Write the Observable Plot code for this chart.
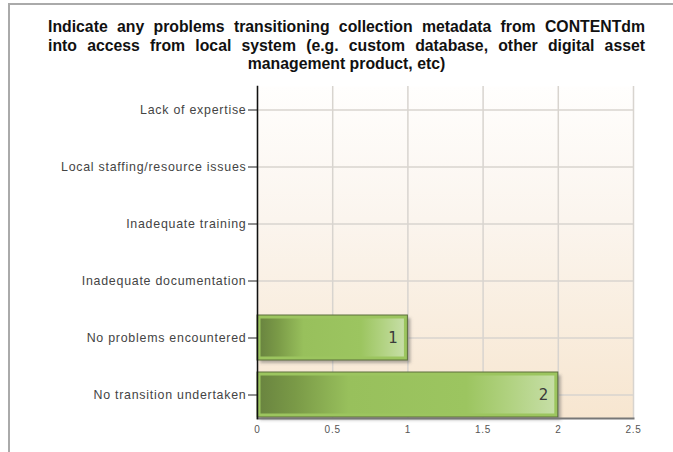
<!DOCTYPE html>
<html>
<head>
<meta charset="utf-8">
<script src="https://cdn.jsdelivr.net/npm/d3@7"></script>
<script src="https://cdn.jsdelivr.net/npm/@observablehq/plot@0.6"></script>
<style>
  html, body { margin: 0; padding: 0; background: #fff; }
  #page { position: relative; width: 673px; height: 452px; overflow: hidden; }
  #frame { position: absolute; left: 8px; top: 3px; width: 700px; height: 500px;
           border-left: 2px solid #aaa; border-top: 2px solid #aaa; }
  #title { position: absolute; left: 48px; top: 18px; width: 597px;
           font-family: "Liberation Sans", Arial, sans-serif; font-weight: bold; font-size: 15.8px;
           line-height: 18.5px; color: #111; }
  #title .j { text-align: justify; text-align-last: justify; }
  #title .c { text-align: center; white-space: nowrap; }
  #chart { position: absolute; left: 0; top: 80px; }
  #chart svg g[aria-label="y-axis tick label"] text,
  #chart svg g[aria-label="x-axis tick label"] text { letter-spacing: 0.75px; }
</style>
</head>
<body>
<div id="page">
  <div id="frame"></div>
  <div id="title"></div>
  <div id="chart"></div>
</div>
<script>
const titleLines = [
  "Indicate any problems transitioning collection metadata from CONTENTdm",
  "into access from local system (e.g. custom database, other digital asset",
  "management product, etc)"
];
const categories = [
  "Lack of expertise",
  "Local staffing/resource issues",
  "Inadequate training",
  "Inadequate documentation",
  "No problems encountered",
  "No transition undertaken"
];
const values = [0, 0, 0, 0, 1, 2];
const xTicks = [0, 0.5, 1, 1.5, 2, 2.5];
const xTickLabels = ["0", "0.5", "1", "1.5", "2", "2.5"];

const titleEl = document.getElementById("title");
titleLines.forEach((t, i) => {
  const d = document.createElement("div");
  d.className = i < titleLines.length - 1 ? "j" : "c";
  d.textContent = t;
  titleEl.appendChild(d);
});

const data = categories.map((c, i) => ({category: c, value: values[i]}));
const bars = data.filter(d => d.value > 0);

const plot = Plot.plot({
  width: 673,
  height: 372,
  marginLeft: 257,
  marginRight: 40,
  marginTop: 6,
  marginBottom: 34,
  style: {fontFamily: "'Liberation Sans', Arial, sans-serif", background: "transparent", overflow: "visible"},
  x: {domain: [0, 2.5], ticks: xTicks},
  y: {domain: categories, paddingInner: 0.216, paddingOuter: 0},
  marks: [
    Plot.frame({fill: "url(#bgGrad)", stroke: "none"}),
    Plot.gridX(xTicks, {stroke: "#d8d4cf", strokeOpacity: 1, strokeWidth: 1.5}),
    Plot.gridY({stroke: "#d8d4cf", strokeOpacity: 1, strokeWidth: 1.5}),
    Plot.barX(bars, {x: "value", y: "category", fill: "#555", fillOpacity: 0.45, dx: 3, dy: 3, render: (i, s, v, d, c, next) => { const g = next(i, s, v, d, c); g.setAttribute("filter", "url(#blur)"); return g; }}),
    Plot.barX(bars, {x: "value", y: "category", fill: "#9cc55f", stroke: "#5d6e3c", strokeWidth: 1}),
    Plot.barX(bars, {x: "value", y: "category", fill: "url(#barGrad)", inset: 3.5}),
    Plot.text(bars, {x: "value", y: "category", text: d => String(d.value), dx: -10, textAnchor: "end", fontSize: 15, fill: "#3a3a3a", fontFamily: "'DejaVu Sans', sans-serif"}),
    Plot.axisY({tickSize: 9, tickPadding: 2, fontSize: 12.4, color: "#444", stroke: "#222", label: null}),
    Plot.axisX({ticks: xTicks, tickFormat: (d, i) => xTickLabels[i], tickSize: 0, tickPadding: 7, fontSize: 10, color: "#555", label: null}),
    Plot.frame({anchor: "bottom", stroke: "#777", strokeWidth: 2}),
    Plot.frame({anchor: "left", stroke: "#111", strokeWidth: 1.5})
  ]
});

const defs = d3.select(plot).insert("defs", ":first-child");
const bg = defs.append("linearGradient").attr("id", "bgGrad").attr("x1", 0).attr("y1", 0).attr("x2", 0).attr("y2", 1);
bg.append("stop").attr("offset", "0%").attr("stop-color", "#fffefd");
bg.append("stop").attr("offset", "40%").attr("stop-color", "#fbf5ee");
bg.append("stop").attr("offset", "100%").attr("stop-color", "#f7e6d0");
const bgr = defs.append("linearGradient").attr("id", "barGrad").attr("x1", 0).attr("y1", 0).attr("x2", 1).attr("y2", 0);
[["0%", "#6a8540"], ["12%", "#7a9a47"], ["30%", "#98c05c"], ["70%", "#9cc560"], ["85%", "#b1d281"], ["100%", "#c6dea6"]]
  .forEach(([o, c]) => bgr.append("stop").attr("offset", o).attr("stop-color", c));
defs.append("filter").attr("id", "blur").attr("x", "-10%").attr("y", "-20%").attr("width", "120%").attr("height", "140%")
  .append("feGaussianBlur").attr("stdDeviation", 1.5);

document.getElementById("chart").appendChild(plot);
</script>
</body>
</html>
